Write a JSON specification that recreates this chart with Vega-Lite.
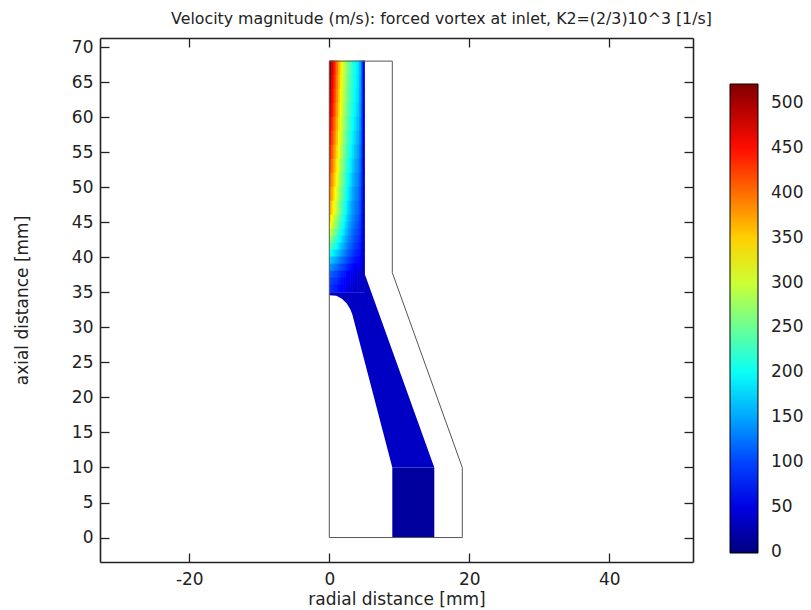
{
"$schema": "https://vega.github.io/schema/vega-lite/v6.json",
"width": 593, "height": 524,
"autosize": {"type": "none"},
"padding": {"left": 100, "top": 38, "right": 118, "bottom": 48},
"background": "white",
"config": {"font": "DejaVu Sans", "view": {"stroke": null}},
"title": {"text": "Velocity magnitude (m/s): forced vortex at inlet, K2=(2/3)10^3 [1/s]", "fontSize": 15.8, "fontWeight": "normal", "color": "#222", "frame": "group", "anchor": "middle", "dx": 45, "offset": 10},
"datasets": {
"grid": [
{"x":0,"x2":0.25,"y":66,"y2":68,"v":515},{"x":0.25,"x2":0.5,"y":66,"y2":68,"v":480},{"x":0.5,"x2":0.75,"y":66,"y2":68,"v":450},{"x":0.75,"x2":1,"y":66,"y2":68,"v":425},{"x":1,"x2":1.25,"y":66,"y2":68,"v":395},{"x":1.25,"x2":1.5,"y":66,"y2":68,"v":365},{"x":1.5,"x2":1.75,"y":66,"y2":68,"v":340},{"x":1.75,"x2":2,"y":66,"y2":68,"v":315},{"x":2,"x2":2.25,"y":66,"y2":68,"v":295},{"x":2.25,"x2":2.5,"y":66,"y2":68,"v":275},{"x":2.5,"x2":2.75,"y":66,"y2":68,"v":258},{"x":2.75,"x2":3,"y":66,"y2":68,"v":242},{"x":3,"x2":3.25,"y":66,"y2":68,"v":228},{"x":3.25,"x2":3.5,"y":66,"y2":68,"v":215},{"x":3.5,"x2":3.75,"y":66,"y2":68,"v":203},{"x":3.75,"x2":4,"y":66,"y2":68,"v":192},{"x":4,"x2":4.25,"y":66,"y2":68,"v":180},{"x":4.25,"x2":4.5,"y":66,"y2":68,"v":160},{"x":4.5,"x2":4.75,"y":66,"y2":68,"v":120},{"x":4.75,"x2":5,"y":66,"y2":68,"v":50},
{"x":0,"x2":0.25,"y":64,"y2":66,"v":505},{"x":0.25,"x2":0.5,"y":64,"y2":66,"v":472},{"x":0.5,"x2":0.75,"y":64,"y2":66,"v":443},{"x":0.75,"x2":1,"y":64,"y2":66,"v":418},{"x":1,"x2":1.25,"y":64,"y2":66,"v":389},{"x":1.25,"x2":1.5,"y":64,"y2":66,"v":360},{"x":1.5,"x2":1.75,"y":64,"y2":66,"v":335},{"x":1.75,"x2":2,"y":64,"y2":66,"v":311},{"x":2,"x2":2.25,"y":64,"y2":66,"v":291},{"x":2.25,"x2":2.5,"y":64,"y2":66,"v":272},{"x":2.5,"x2":2.75,"y":64,"y2":66,"v":255},{"x":2.75,"x2":3,"y":64,"y2":66,"v":240},{"x":3,"x2":3.25,"y":64,"y2":66,"v":226},{"x":3.25,"x2":3.5,"y":64,"y2":66,"v":213},{"x":3.5,"x2":3.75,"y":64,"y2":66,"v":201},{"x":3.75,"x2":4,"y":64,"y2":66,"v":190},{"x":4,"x2":4.25,"y":64,"y2":66,"v":177},{"x":4.25,"x2":4.5,"y":64,"y2":66,"v":157},{"x":4.5,"x2":4.75,"y":64,"y2":66,"v":118},{"x":4.75,"x2":5,"y":64,"y2":66,"v":48},
{"x":0,"x2":0.25,"y":62,"y2":64,"v":495},{"x":0.25,"x2":0.5,"y":62,"y2":64,"v":463},{"x":0.5,"x2":0.75,"y":62,"y2":64,"v":435},{"x":0.75,"x2":1,"y":62,"y2":64,"v":410},{"x":1,"x2":1.25,"y":62,"y2":64,"v":382},{"x":1.25,"x2":1.5,"y":62,"y2":64,"v":354},{"x":1.5,"x2":1.75,"y":62,"y2":64,"v":329},{"x":1.75,"x2":2,"y":62,"y2":64,"v":306},{"x":2,"x2":2.25,"y":62,"y2":64,"v":286},{"x":2.25,"x2":2.5,"y":62,"y2":64,"v":267},{"x":2.5,"x2":2.75,"y":62,"y2":64,"v":251},{"x":2.75,"x2":3,"y":62,"y2":64,"v":236},{"x":3,"x2":3.25,"y":62,"y2":64,"v":222},{"x":3.25,"x2":3.5,"y":62,"y2":64,"v":209},{"x":3.5,"x2":3.75,"y":62,"y2":64,"v":197},{"x":3.75,"x2":4,"y":62,"y2":64,"v":186},{"x":4,"x2":4.25,"y":62,"y2":64,"v":173},{"x":4.25,"x2":4.5,"y":62,"y2":64,"v":153},{"x":4.5,"x2":4.75,"y":62,"y2":64,"v":115},{"x":4.75,"x2":5,"y":62,"y2":64,"v":47},
{"x":0,"x2":0.25,"y":60,"y2":62,"v":485},{"x":0.25,"x2":0.5,"y":60,"y2":62,"v":454},{"x":0.5,"x2":0.75,"y":60,"y2":62,"v":426},{"x":0.75,"x2":1,"y":60,"y2":62,"v":401},{"x":1,"x2":1.25,"y":60,"y2":62,"v":374},{"x":1.25,"x2":1.5,"y":60,"y2":62,"v":347},{"x":1.5,"x2":1.75,"y":60,"y2":62,"v":322},{"x":1.75,"x2":2,"y":60,"y2":62,"v":300},{"x":2,"x2":2.25,"y":60,"y2":62,"v":280},{"x":2.25,"x2":2.5,"y":60,"y2":62,"v":262},{"x":2.5,"x2":2.75,"y":60,"y2":62,"v":246},{"x":2.75,"x2":3,"y":60,"y2":62,"v":231},{"x":3,"x2":3.25,"y":60,"y2":62,"v":217},{"x":3.25,"x2":3.5,"y":60,"y2":62,"v":204},{"x":3.5,"x2":3.75,"y":60,"y2":62,"v":192},{"x":3.75,"x2":4,"y":60,"y2":62,"v":181},{"x":4,"x2":4.25,"y":60,"y2":62,"v":168},{"x":4.25,"x2":4.5,"y":60,"y2":62,"v":149},{"x":4.5,"x2":4.75,"y":60,"y2":62,"v":112},{"x":4.75,"x2":5,"y":60,"y2":62,"v":46},
{"x":0,"x2":0.25,"y":58,"y2":60,"v":470},{"x":0.25,"x2":0.5,"y":58,"y2":60,"v":441},{"x":0.5,"x2":0.75,"y":58,"y2":60,"v":414},{"x":0.75,"x2":1,"y":58,"y2":60,"v":390},{"x":1,"x2":1.25,"y":58,"y2":60,"v":364},{"x":1.25,"x2":1.5,"y":58,"y2":60,"v":338},{"x":1.5,"x2":1.75,"y":58,"y2":60,"v":314},{"x":1.75,"x2":2,"y":58,"y2":60,"v":292},{"x":2,"x2":2.25,"y":58,"y2":60,"v":273},{"x":2.25,"x2":2.5,"y":58,"y2":60,"v":255},{"x":2.5,"x2":2.75,"y":58,"y2":60,"v":239},{"x":2.75,"x2":3,"y":58,"y2":60,"v":224},{"x":3,"x2":3.25,"y":58,"y2":60,"v":210},{"x":3.25,"x2":3.5,"y":58,"y2":60,"v":197},{"x":3.5,"x2":3.75,"y":58,"y2":60,"v":185},{"x":3.75,"x2":4,"y":58,"y2":60,"v":174},{"x":4,"x2":4.25,"y":58,"y2":60,"v":161},{"x":4.25,"x2":4.5,"y":58,"y2":60,"v":143},{"x":4.5,"x2":4.75,"y":58,"y2":60,"v":108},{"x":4.75,"x2":5,"y":58,"y2":60,"v":45},
{"x":0,"x2":0.25,"y":56,"y2":58,"v":455},{"x":0.25,"x2":0.5,"y":56,"y2":58,"v":428},{"x":0.5,"x2":0.75,"y":56,"y2":58,"v":402},{"x":0.75,"x2":1,"y":56,"y2":58,"v":378},{"x":1,"x2":1.25,"y":56,"y2":58,"v":353},{"x":1.25,"x2":1.5,"y":56,"y2":58,"v":328},{"x":1.5,"x2":1.75,"y":56,"y2":58,"v":305},{"x":1.75,"x2":2,"y":56,"y2":58,"v":284},{"x":2,"x2":2.25,"y":56,"y2":58,"v":265},{"x":2.25,"x2":2.5,"y":56,"y2":58,"v":247},{"x":2.5,"x2":2.75,"y":56,"y2":58,"v":231},{"x":2.75,"x2":3,"y":56,"y2":58,"v":216},{"x":3,"x2":3.25,"y":56,"y2":58,"v":202},{"x":3.25,"x2":3.5,"y":56,"y2":58,"v":189},{"x":3.5,"x2":3.75,"y":56,"y2":58,"v":177},{"x":3.75,"x2":4,"y":56,"y2":58,"v":166},{"x":4,"x2":4.25,"y":56,"y2":58,"v":154},{"x":4.25,"x2":4.5,"y":56,"y2":58,"v":137},{"x":4.5,"x2":4.75,"y":56,"y2":58,"v":104},{"x":4.75,"x2":5,"y":56,"y2":58,"v":44},
{"x":0,"x2":0.25,"y":54,"y2":56,"v":440},{"x":0.25,"x2":0.5,"y":54,"y2":56,"v":414},{"x":0.5,"x2":0.75,"y":54,"y2":56,"v":389},{"x":0.75,"x2":1,"y":54,"y2":56,"v":366},{"x":1,"x2":1.25,"y":54,"y2":56,"v":342},{"x":1.25,"x2":1.5,"y":54,"y2":56,"v":318},{"x":1.5,"x2":1.75,"y":54,"y2":56,"v":296},{"x":1.75,"x2":2,"y":54,"y2":56,"v":275},{"x":2,"x2":2.25,"y":54,"y2":56,"v":256},{"x":2.25,"x2":2.5,"y":54,"y2":56,"v":238},{"x":2.5,"x2":2.75,"y":54,"y2":56,"v":222},{"x":2.75,"x2":3,"y":54,"y2":56,"v":207},{"x":3,"x2":3.25,"y":54,"y2":56,"v":193},{"x":3.25,"x2":3.5,"y":54,"y2":56,"v":180},{"x":3.5,"x2":3.75,"y":54,"y2":56,"v":168},{"x":3.75,"x2":4,"y":54,"y2":56,"v":157},{"x":4,"x2":4.25,"y":54,"y2":56,"v":146},{"x":4.25,"x2":4.5,"y":54,"y2":56,"v":130},{"x":4.5,"x2":4.75,"y":54,"y2":56,"v":100},{"x":4.75,"x2":5,"y":54,"y2":56,"v":43},
{"x":0,"x2":0.25,"y":52,"y2":54,"v":425},{"x":0.25,"x2":0.5,"y":52,"y2":54,"v":400},{"x":0.5,"x2":0.75,"y":52,"y2":54,"v":376},{"x":0.75,"x2":1,"y":52,"y2":54,"v":353},{"x":1,"x2":1.25,"y":52,"y2":54,"v":330},{"x":1.25,"x2":1.5,"y":52,"y2":54,"v":307},{"x":1.5,"x2":1.75,"y":52,"y2":54,"v":285},{"x":1.75,"x2":2,"y":52,"y2":54,"v":265},{"x":2,"x2":2.25,"y":52,"y2":54,"v":246},{"x":2.25,"x2":2.5,"y":52,"y2":54,"v":228},{"x":2.5,"x2":2.75,"y":52,"y2":54,"v":212},{"x":2.75,"x2":3,"y":52,"y2":54,"v":197},{"x":3,"x2":3.25,"y":52,"y2":54,"v":183},{"x":3.25,"x2":3.5,"y":52,"y2":54,"v":170},{"x":3.5,"x2":3.75,"y":52,"y2":54,"v":158},{"x":3.75,"x2":4,"y":52,"y2":54,"v":148},{"x":4,"x2":4.25,"y":52,"y2":54,"v":138},{"x":4.25,"x2":4.5,"y":52,"y2":54,"v":124},{"x":4.5,"x2":4.75,"y":52,"y2":54,"v":96},{"x":4.75,"x2":5,"y":52,"y2":54,"v":42},
{"x":0,"x2":0.25,"y":50,"y2":52,"v":410},{"x":0.25,"x2":0.5,"y":50,"y2":52,"v":386},{"x":0.5,"x2":0.75,"y":50,"y2":52,"v":362},{"x":0.75,"x2":1,"y":50,"y2":52,"v":340},{"x":1,"x2":1.25,"y":50,"y2":52,"v":318},{"x":1.25,"x2":1.5,"y":50,"y2":52,"v":296},{"x":1.5,"x2":1.75,"y":50,"y2":52,"v":275},{"x":1.75,"x2":2,"y":50,"y2":52,"v":255},{"x":2,"x2":2.25,"y":50,"y2":52,"v":236},{"x":2.25,"x2":2.5,"y":50,"y2":52,"v":218},{"x":2.5,"x2":2.75,"y":50,"y2":52,"v":202},{"x":2.75,"x2":3,"y":50,"y2":52,"v":187},{"x":3,"x2":3.25,"y":50,"y2":52,"v":173},{"x":3.25,"x2":3.5,"y":50,"y2":52,"v":160},{"x":3.5,"x2":3.75,"y":50,"y2":52,"v":149},{"x":3.75,"x2":4,"y":50,"y2":52,"v":140},{"x":4,"x2":4.25,"y":50,"y2":52,"v":131},{"x":4.25,"x2":4.5,"y":50,"y2":52,"v":118},{"x":4.5,"x2":4.75,"y":50,"y2":52,"v":92},{"x":4.75,"x2":5,"y":50,"y2":52,"v":41},
{"x":0,"x2":0.25,"y":48,"y2":50,"v":392},{"x":0.25,"x2":0.5,"y":48,"y2":50,"v":369},{"x":0.5,"x2":0.75,"y":48,"y2":50,"v":346},{"x":0.75,"x2":1,"y":48,"y2":50,"v":325},{"x":1,"x2":1.25,"y":48,"y2":50,"v":304},{"x":1.25,"x2":1.5,"y":48,"y2":50,"v":283},{"x":1.5,"x2":1.75,"y":48,"y2":50,"v":263},{"x":1.75,"x2":2,"y":48,"y2":50,"v":244},{"x":2,"x2":2.25,"y":48,"y2":50,"v":225},{"x":2.25,"x2":2.5,"y":48,"y2":50,"v":208},{"x":2.5,"x2":2.75,"y":48,"y2":50,"v":192},{"x":2.75,"x2":3,"y":48,"y2":50,"v":177},{"x":3,"x2":3.25,"y":48,"y2":50,"v":163},{"x":3.25,"x2":3.5,"y":48,"y2":50,"v":151},{"x":3.5,"x2":3.75,"y":48,"y2":50,"v":140},{"x":3.75,"x2":4,"y":48,"y2":50,"v":132},{"x":4,"x2":4.25,"y":48,"y2":50,"v":124},{"x":4.25,"x2":4.5,"y":48,"y2":50,"v":112},{"x":4.5,"x2":4.75,"y":48,"y2":50,"v":88},{"x":4.75,"x2":5,"y":48,"y2":50,"v":40},
{"x":0,"x2":0.25,"y":46,"y2":48,"v":370},{"x":0.25,"x2":0.5,"y":46,"y2":48,"v":348},{"x":0.5,"x2":0.75,"y":46,"y2":48,"v":327},{"x":0.75,"x2":1,"y":46,"y2":48,"v":307},{"x":1,"x2":1.25,"y":46,"y2":48,"v":287},{"x":1.25,"x2":1.5,"y":46,"y2":48,"v":267},{"x":1.5,"x2":1.75,"y":46,"y2":48,"v":248},{"x":1.75,"x2":2,"y":46,"y2":48,"v":230},{"x":2,"x2":2.25,"y":46,"y2":48,"v":212},{"x":2.25,"x2":2.5,"y":46,"y2":48,"v":196},{"x":2.5,"x2":2.75,"y":46,"y2":48,"v":180},{"x":2.75,"x2":3,"y":46,"y2":48,"v":166},{"x":3,"x2":3.25,"y":46,"y2":48,"v":153},{"x":3.25,"x2":3.5,"y":46,"y2":48,"v":142},{"x":3.5,"x2":3.75,"y":46,"y2":48,"v":132},{"x":3.75,"x2":4,"y":46,"y2":48,"v":124},{"x":4,"x2":4.25,"y":46,"y2":48,"v":117},{"x":4.25,"x2":4.5,"y":46,"y2":48,"v":106},{"x":4.5,"x2":4.75,"y":46,"y2":48,"v":84},{"x":4.75,"x2":5,"y":46,"y2":48,"v":39},
{"x":0,"x2":0.25,"y":45,"y2":46,"v":345},{"x":0.25,"x2":0.5,"y":45,"y2":46,"v":325},{"x":0.5,"x2":0.75,"y":45,"y2":46,"v":306},{"x":0.75,"x2":1,"y":45,"y2":46,"v":288},{"x":1,"x2":1.25,"y":45,"y2":46,"v":269},{"x":1.25,"x2":1.5,"y":45,"y2":46,"v":251},{"x":1.5,"x2":1.75,"y":45,"y2":46,"v":234},{"x":1.75,"x2":2,"y":45,"y2":46,"v":217},{"x":2,"x2":2.25,"y":45,"y2":46,"v":200},{"x":2.25,"x2":2.5,"y":45,"y2":46,"v":185},{"x":2.5,"x2":2.75,"y":45,"y2":46,"v":170},{"x":2.75,"x2":3,"y":45,"y2":46,"v":157},{"x":3,"x2":3.25,"y":45,"y2":46,"v":145},{"x":3.25,"x2":3.5,"y":45,"y2":46,"v":134},{"x":3.5,"x2":3.75,"y":45,"y2":46,"v":125},{"x":3.75,"x2":4,"y":45,"y2":46,"v":117},{"x":4,"x2":4.25,"y":45,"y2":46,"v":110},{"x":4.25,"x2":4.5,"y":45,"y2":46,"v":100},{"x":4.5,"x2":4.75,"y":45,"y2":46,"v":80},{"x":4.75,"x2":5,"y":45,"y2":46,"v":38},
{"x":0,"x2":0.25,"y":44,"y2":45,"v":325},{"x":0.25,"x2":0.5,"y":44,"y2":45,"v":306},{"x":0.5,"x2":0.75,"y":44,"y2":45,"v":288},{"x":0.75,"x2":1,"y":44,"y2":45,"v":271},{"x":1,"x2":1.25,"y":44,"y2":45,"v":254},{"x":1.25,"x2":1.5,"y":44,"y2":45,"v":237},{"x":1.5,"x2":1.75,"y":44,"y2":45,"v":221},{"x":1.75,"x2":2,"y":44,"y2":45,"v":205},{"x":2,"x2":2.25,"y":44,"y2":45,"v":190},{"x":2.25,"x2":2.5,"y":44,"y2":45,"v":175},{"x":2.5,"x2":2.75,"y":44,"y2":45,"v":161},{"x":2.75,"x2":3,"y":44,"y2":45,"v":149},{"x":3,"x2":3.25,"y":44,"y2":45,"v":138},{"x":3.25,"x2":3.5,"y":44,"y2":45,"v":128},{"x":3.5,"x2":3.75,"y":44,"y2":45,"v":119},{"x":3.75,"x2":4,"y":44,"y2":45,"v":111},{"x":4,"x2":4.25,"y":44,"y2":45,"v":104},{"x":4.25,"x2":4.5,"y":44,"y2":45,"v":95},{"x":4.5,"x2":4.75,"y":44,"y2":45,"v":77},{"x":4.75,"x2":5,"y":44,"y2":45,"v":37},
{"x":0,"x2":0.25,"y":43,"y2":44,"v":300},{"x":0.25,"x2":0.5,"y":43,"y2":44,"v":283},{"x":0.5,"x2":0.75,"y":43,"y2":44,"v":267},{"x":0.75,"x2":1,"y":43,"y2":44,"v":251},{"x":1,"x2":1.25,"y":43,"y2":44,"v":236},{"x":1.25,"x2":1.5,"y":43,"y2":44,"v":221},{"x":1.5,"x2":1.75,"y":43,"y2":44,"v":206},{"x":1.75,"x2":2,"y":43,"y2":44,"v":192},{"x":2,"x2":2.25,"y":43,"y2":44,"v":178},{"x":2.25,"x2":2.5,"y":43,"y2":44,"v":164},{"x":2.5,"x2":2.75,"y":43,"y2":44,"v":151},{"x":2.75,"x2":3,"y":43,"y2":44,"v":140},{"x":3,"x2":3.25,"y":43,"y2":44,"v":129},{"x":3.25,"x2":3.5,"y":43,"y2":44,"v":120},{"x":3.5,"x2":3.75,"y":43,"y2":44,"v":112},{"x":3.75,"x2":4,"y":43,"y2":44,"v":105},{"x":4,"x2":4.25,"y":43,"y2":44,"v":98},{"x":4.25,"x2":4.5,"y":43,"y2":44,"v":90},{"x":4.5,"x2":4.75,"y":43,"y2":44,"v":74},{"x":4.75,"x2":5,"y":43,"y2":44,"v":36},
{"x":0,"x2":0.25,"y":42,"y2":43,"v":270},{"x":0.25,"x2":0.5,"y":42,"y2":43,"v":256},{"x":0.5,"x2":0.75,"y":42,"y2":43,"v":242},{"x":0.75,"x2":1,"y":42,"y2":43,"v":228},{"x":1,"x2":1.25,"y":42,"y2":43,"v":215},{"x":1.25,"x2":1.5,"y":42,"y2":43,"v":202},{"x":1.5,"x2":1.75,"y":42,"y2":43,"v":189},{"x":1.75,"x2":2,"y":42,"y2":43,"v":176},{"x":2,"x2":2.25,"y":42,"y2":43,"v":164},{"x":2.25,"x2":2.5,"y":42,"y2":43,"v":152},{"x":2.5,"x2":2.75,"y":42,"y2":43,"v":141},{"x":2.75,"x2":3,"y":42,"y2":43,"v":131},{"x":3,"x2":3.25,"y":42,"y2":43,"v":121},{"x":3.25,"x2":3.5,"y":42,"y2":43,"v":113},{"x":3.5,"x2":3.75,"y":42,"y2":43,"v":105},{"x":3.75,"x2":4,"y":42,"y2":43,"v":98},{"x":4,"x2":4.25,"y":42,"y2":43,"v":92},{"x":4.25,"x2":4.5,"y":42,"y2":43,"v":85},{"x":4.5,"x2":4.75,"y":42,"y2":43,"v":70},{"x":4.75,"x2":5,"y":42,"y2":43,"v":35},
{"x":0,"x2":0.25,"y":41,"y2":42,"v":240},{"x":0.25,"x2":0.5,"y":41,"y2":42,"v":228},{"x":0.5,"x2":0.75,"y":41,"y2":42,"v":216},{"x":0.75,"x2":1,"y":41,"y2":42,"v":204},{"x":1,"x2":1.25,"y":41,"y2":42,"v":193},{"x":1.25,"x2":1.5,"y":41,"y2":42,"v":182},{"x":1.5,"x2":1.75,"y":41,"y2":42,"v":171},{"x":1.75,"x2":2,"y":41,"y2":42,"v":160},{"x":2,"x2":2.25,"y":41,"y2":42,"v":149},{"x":2.25,"x2":2.5,"y":41,"y2":42,"v":139},{"x":2.5,"x2":2.75,"y":41,"y2":42,"v":129},{"x":2.75,"x2":3,"y":41,"y2":42,"v":120},{"x":3,"x2":3.25,"y":41,"y2":42,"v":112},{"x":3.25,"x2":3.5,"y":41,"y2":42,"v":104},{"x":3.5,"x2":3.75,"y":41,"y2":42,"v":97},{"x":3.75,"x2":4,"y":41,"y2":42,"v":91},{"x":4,"x2":4.25,"y":41,"y2":42,"v":85},{"x":4.25,"x2":4.5,"y":41,"y2":42,"v":79},{"x":4.5,"x2":4.75,"y":41,"y2":42,"v":66},{"x":4.75,"x2":5,"y":41,"y2":42,"v":34},
{"x":0,"x2":0.25,"y":40,"y2":41,"v":205},{"x":0.25,"x2":0.5,"y":40,"y2":41,"v":196},{"x":0.5,"x2":0.75,"y":40,"y2":41,"v":187},{"x":0.75,"x2":1,"y":40,"y2":41,"v":178},{"x":1,"x2":1.25,"y":40,"y2":41,"v":169},{"x":1.25,"x2":1.5,"y":40,"y2":41,"v":160},{"x":1.5,"x2":1.75,"y":40,"y2":41,"v":151},{"x":1.75,"x2":2,"y":40,"y2":41,"v":142},{"x":2,"x2":2.25,"y":40,"y2":41,"v":133},{"x":2.25,"x2":2.5,"y":40,"y2":41,"v":124},{"x":2.5,"x2":2.75,"y":40,"y2":41,"v":116},{"x":2.75,"x2":3,"y":40,"y2":41,"v":108},{"x":3,"x2":3.25,"y":40,"y2":41,"v":101},{"x":3.25,"x2":3.5,"y":40,"y2":41,"v":94},{"x":3.5,"x2":3.75,"y":40,"y2":41,"v":88},{"x":3.75,"x2":4,"y":40,"y2":41,"v":82},{"x":4,"x2":4.25,"y":40,"y2":41,"v":77},{"x":4.25,"x2":4.5,"y":40,"y2":41,"v":72},{"x":4.5,"x2":4.75,"y":40,"y2":41,"v":60},{"x":4.75,"x2":5,"y":40,"y2":41,"v":33},
{"x":0,"x2":0.25,"y":39,"y2":40,"v":170},{"x":0.25,"x2":0.5,"y":39,"y2":40,"v":163},{"x":0.5,"x2":0.75,"y":39,"y2":40,"v":156},{"x":0.75,"x2":1,"y":39,"y2":40,"v":149},{"x":1,"x2":1.25,"y":39,"y2":40,"v":142},{"x":1.25,"x2":1.5,"y":39,"y2":40,"v":135},{"x":1.5,"x2":1.75,"y":39,"y2":40,"v":128},{"x":1.75,"x2":2,"y":39,"y2":40,"v":121},{"x":2,"x2":2.25,"y":39,"y2":40,"v":114},{"x":2.25,"x2":2.5,"y":39,"y2":40,"v":107},{"x":2.5,"x2":2.75,"y":39,"y2":40,"v":100},{"x":2.75,"x2":3,"y":39,"y2":40,"v":93},{"x":3,"x2":3.25,"y":39,"y2":40,"v":87},{"x":3.25,"x2":3.5,"y":39,"y2":40,"v":81},{"x":3.5,"x2":3.75,"y":39,"y2":40,"v":76},{"x":3.75,"x2":4,"y":39,"y2":40,"v":71},{"x":4,"x2":4.25,"y":39,"y2":40,"v":67},{"x":4.25,"x2":4.5,"y":39,"y2":40,"v":63},{"x":4.5,"x2":4.75,"y":39,"y2":40,"v":54},{"x":4.75,"x2":5,"y":39,"y2":40,"v":32},
{"x":0,"x2":0.25,"y":38,"y2":39,"v":140},{"x":0.25,"x2":0.5,"y":38,"y2":39,"v":135},{"x":0.5,"x2":0.75,"y":38,"y2":39,"v":130},{"x":0.75,"x2":1,"y":38,"y2":39,"v":124},{"x":1,"x2":1.25,"y":38,"y2":39,"v":118},{"x":1.25,"x2":1.5,"y":38,"y2":39,"v":112},{"x":1.5,"x2":1.75,"y":38,"y2":39,"v":106},{"x":1.75,"x2":2,"y":38,"y2":39,"v":100},{"x":2,"x2":2.25,"y":38,"y2":39,"v":94},{"x":2.25,"x2":2.5,"y":38,"y2":39,"v":88},{"x":2.5,"x2":2.75,"y":38,"y2":39,"v":82},{"x":2.75,"x2":3,"y":38,"y2":39,"v":76},{"x":3,"x2":3.25,"y":38,"y2":39,"v":71},{"x":3.25,"x2":3.5,"y":38,"y2":39,"v":66},{"x":3.5,"x2":3.75,"y":38,"y2":39,"v":62},{"x":3.75,"x2":4,"y":38,"y2":39,"v":58},{"x":4,"x2":4.25,"y":38,"y2":39,"v":55},{"x":4.25,"x2":4.5,"y":38,"y2":39,"v":52},{"x":4.5,"x2":4.75,"y":38,"y2":39,"v":46},{"x":4.75,"x2":5,"y":38,"y2":39,"v":31},
{"x":0,"x2":0.25,"y":37,"y2":38,"v":115},{"x":0.25,"x2":0.5,"y":37,"y2":38,"v":111},{"x":0.5,"x2":0.75,"y":37,"y2":38,"v":107},{"x":0.75,"x2":1,"y":37,"y2":38,"v":102},{"x":1,"x2":1.25,"y":37,"y2":38,"v":97},{"x":1.25,"x2":1.5,"y":37,"y2":38,"v":92},{"x":1.5,"x2":1.75,"y":37,"y2":38,"v":87},{"x":1.75,"x2":2,"y":37,"y2":38,"v":82},{"x":2,"x2":2.25,"y":37,"y2":38,"v":77},{"x":2.25,"x2":2.5,"y":37,"y2":38,"v":72},{"x":2.5,"x2":2.75,"y":37,"y2":38,"v":67},{"x":2.75,"x2":3,"y":37,"y2":38,"v":62},{"x":3,"x2":3.25,"y":37,"y2":38,"v":58},{"x":3.25,"x2":3.5,"y":37,"y2":38,"v":54},{"x":3.5,"x2":3.75,"y":37,"y2":38,"v":50},{"x":3.75,"x2":4,"y":37,"y2":38,"v":47},{"x":4,"x2":4.25,"y":37,"y2":38,"v":45},{"x":4.25,"x2":4.5,"y":37,"y2":38,"v":43},{"x":4.5,"x2":4.75,"y":37,"y2":38,"v":40},{"x":4.75,"x2":5,"y":37,"y2":38,"v":30},
{"x":0,"x2":0.25,"y":36,"y2":37,"v":100},{"x":0.25,"x2":0.5,"y":36,"y2":37,"v":97},{"x":0.5,"x2":0.75,"y":36,"y2":37,"v":93},{"x":0.75,"x2":1,"y":36,"y2":37,"v":89},{"x":1,"x2":1.25,"y":36,"y2":37,"v":85},{"x":1.25,"x2":1.5,"y":36,"y2":37,"v":80},{"x":1.5,"x2":1.75,"y":36,"y2":37,"v":75},{"x":1.75,"x2":2,"y":36,"y2":37,"v":70},{"x":2,"x2":2.25,"y":36,"y2":37,"v":66},{"x":2.25,"x2":2.5,"y":36,"y2":37,"v":62},{"x":2.5,"x2":2.75,"y":36,"y2":37,"v":58},{"x":2.75,"x2":3,"y":36,"y2":37,"v":54},{"x":3,"x2":3.25,"y":36,"y2":37,"v":50},{"x":3.25,"x2":3.5,"y":36,"y2":37,"v":47},{"x":3.5,"x2":3.75,"y":36,"y2":37,"v":44},{"x":3.75,"x2":4,"y":36,"y2":37,"v":42},{"x":4,"x2":4.25,"y":36,"y2":37,"v":40},{"x":4.25,"x2":4.5,"y":36,"y2":37,"v":38},{"x":4.5,"x2":4.75,"y":36,"y2":37,"v":36},{"x":4.75,"x2":5,"y":36,"y2":37,"v":30},
{"x":0,"x2":0.25,"y":35,"y2":36,"v":90},{"x":0.25,"x2":0.5,"y":35,"y2":36,"v":87},{"x":0.5,"x2":0.75,"y":35,"y2":36,"v":83},{"x":0.75,"x2":1,"y":35,"y2":36,"v":79},{"x":1,"x2":1.25,"y":35,"y2":36,"v":75},{"x":1.25,"x2":1.5,"y":35,"y2":36,"v":71},{"x":1.5,"x2":1.75,"y":35,"y2":36,"v":67},{"x":1.75,"x2":2,"y":35,"y2":36,"v":63},{"x":2,"x2":2.25,"y":35,"y2":36,"v":59},{"x":2.25,"x2":2.5,"y":35,"y2":36,"v":55},{"x":2.5,"x2":2.75,"y":35,"y2":36,"v":51},{"x":2.75,"x2":3,"y":35,"y2":36,"v":48},{"x":3,"x2":3.25,"y":35,"y2":36,"v":45},{"x":3.25,"x2":3.5,"y":35,"y2":36,"v":42},{"x":3.5,"x2":3.75,"y":35,"y2":36,"v":40},{"x":3.75,"x2":4,"y":35,"y2":36,"v":38},{"x":4,"x2":4.25,"y":35,"y2":36,"v":36},{"x":4.25,"x2":4.5,"y":35,"y2":36,"v":35},{"x":4.5,"x2":4.75,"y":35,"y2":36,"v":34},{"x":4.75,"x2":5,"y":35,"y2":36,"v":30}
],
"poly": [
{"id":"a","i":0,"x":0,"y":35,"v":35},{"id":"a","i":1,"x":0,"y":34.6,"v":35},{"id":"a","i":2,"x":1,"y":34.5,"v":35},{"id":"a","i":3,"x":1.8,"y":34.1,"v":35},{"id":"a","i":4,"x":2.5,"y":33.4,"v":35},{"id":"a","i":5,"x":3,"y":32.6,"v":35},{"id":"a","i":6,"x":3.3,"y":31.8,"v":35},{"id":"a","i":7,"x":9,"y":10,"v":35},{"id":"a","i":8,"x":15,"y":10,"v":35},{"id":"a","i":9,"x":5,"y":37.8,"v":35},{"id":"a","i":10,"x":5,"y":35,"v":35},
{"id":"b","i":0,"x":9,"y":0,"v":15},{"id":"b","i":1,"x":15,"y":0,"v":15},{"id":"b","i":2,"x":15,"y":10,"v":15},{"id":"b","i":3,"x":9,"y":10,"v":15}
],
"outline": [
{"i":0,"x":0,"y":0},{"i":1,"x":19,"y":0},{"i":2,"x":19,"y":10},{"i":3,"x":9,"y":37.8},{"i":4,"x":9,"y":68},{"i":5,"x":0,"y":68},{"i":6,"x":0,"y":0}
]
},
"layer": [
{"data": {"name": "grid"},
 "mark": {"type": "rect", "x2Offset": 0.6, "y2Offset": -0.6},
 "encoding": {
  "x": {"field": "x", "type": "quantitative", "scale": {"domain": [-32.76, 51.96], "nice": false, "zero": false},
        "axis": {"orient": "bottom", "values": [-20, 0, 20, 40], "labelExpr": "replace(datum.label, '−', '-')", "grid": false, "tickSize": -9, "tickWidth": 1.3, "tickColor": "#222", "domainColor": "#222", "domainWidth": 1.6, "labelFontSize": 17, "labelColor": "#222", "labelPadding": 18, "title": "radial distance [mm]", "titleFontSize": 17, "titleFontWeight": "normal", "titleColor": "#222", "titlePadding": 4}},
  "x2": {"field": "x2"},
  "y": {"field": "y", "type": "quantitative", "scale": {"domain": [-3.49, 71.3], "nice": false, "zero": false},
        "axis": {"orient": "left", "values": [0,5,10,15,20,25,30,35,40,45,50,55,60,65,70], "grid": false, "tickSize": -9, "tickWidth": 1.3, "tickColor": "#222", "domainColor": "#222", "domainWidth": 1.6, "labelFontSize": 17, "labelColor": "#222", "labelPadding": 16, "title": "axial distance [mm]", "titleFontSize": 17, "titleFontWeight": "normal", "titleColor": "#222", "titlePadding": 40}},
  "y2": {"field": "y2"},
  "fill": {"field": "v", "type": "quantitative",
           "scale": {"type": "linear", "domain": [-1, 65.1, 195.4, 325.6, 455.9, 521], "range": ["#00007F", "#0000FF", "#00FFFF", "#FFFF00", "#FF0000", "#7F0000"], "interpolate": "rgb", "nice": false, "zero": false},
           "legend": {"type": "gradient", "orient": "none", "legendX": 630, "legendY": 46, "direction": "vertical", "gradientLength": 469, "gradientThickness": 28, "gradientStrokeColor": "#000", "gradientStrokeWidth": 1, "values": [0,50,100,150,200,250,300,350,400,450,500], "labelFontSize": 17, "labelColor": "#222", "labelOffset": 13, "labelBaseline": "middle", "labelOverlap": false, "title": null}}
 }},
{"data": {"name": "poly"},
 "mark": {"type": "line", "strokeOpacity": 0},
 "encoding": {
  "x": {"field": "x", "type": "quantitative", "axis": null},
  "y": {"field": "y", "type": "quantitative", "axis": null},
  "detail": {"field": "id"},
  "order": {"field": "i", "type": "quantitative"},
  "fill": {"field": "v", "type": "quantitative", "legend": null}
 }},
{"data": {"name": "outline"},
 "mark": {"type": "line", "stroke": "#555", "strokeWidth": 1},
 "encoding": {
  "x": {"field": "x", "type": "quantitative",
        "axis": {"orient": "top", "values": [-20, 0, 20, 40], "grid": false, "labels": false, "title": null, "tickSize": -9, "tickWidth": 1.3, "tickColor": "#222", "domainColor": "#222", "domainWidth": 1.6}},
  "y": {"field": "y", "type": "quantitative",
        "axis": {"orient": "right", "values": [0,5,10,15,20,25,30,35,40,45,50,55,60,65,70], "grid": false, "labels": false, "title": null, "tickSize": -9, "tickWidth": 1.3, "tickColor": "#222", "domainColor": "#222", "domainWidth": 1.6}},
  "order": {"field": "i", "type": "quantitative"}
 }}
],
"resolve": {"axis": {"x": "independent", "y": "independent"}}
}
